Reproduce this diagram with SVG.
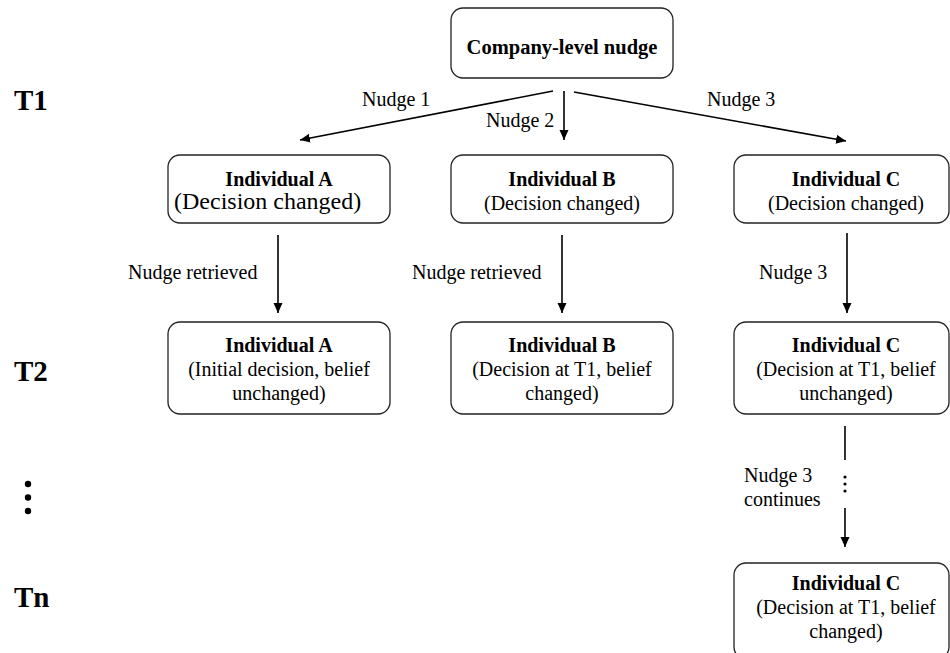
<svg xmlns="http://www.w3.org/2000/svg" width="950" height="653" viewBox="0 0 950 653">
<style>
.box{fill:#fff;stroke:#222;stroke-width:1.3}
text{font-family:"Liberation Serif",Tinos,"Times New Roman","DejaVu Serif",serif;fill:#000}
.b{font-weight:bold;font-size:20px;text-anchor:middle}
.r{font-size:20px;text-anchor:middle}
.l{font-size:20px}
.t{font-weight:bold;font-size:29px}
.ln{stroke:#000;stroke-width:1.6;fill:none}
</style>
<defs>
<marker id="ah" viewBox="0 0 10 10" refX="10" refY="5" markerWidth="10" markerHeight="10" markerUnits="userSpaceOnUse" orient="auto">
<path d="M0,0.5 L10,5 L0,9.5 z" fill="#000"/>
</marker>
</defs>
<rect width="950" height="653" fill="#fff"/>
<g id="time-labels">
<text class="t" x="14" y="110">T1</text>
<text class="t" x="14" y="381">T2</text>
<circle cx="28" cy="484" r="3.2" fill="#000"/>
<circle cx="28" cy="497.5" r="3.2" fill="#000"/>
<circle cx="28" cy="511" r="3.2" fill="#000"/>
<text class="t" x="14" y="607">Tn</text>
</g>
<g id="company">
<rect class="box" x="451" y="8" width="222" height="70" rx="12"/>
<text class="b" x="562" y="54" style="font-size:20.5px">Company-level nudge</text>
</g>
<g id="a1">
<rect class="box" x="168" y="155" width="222" height="68" rx="12"/>
<text class="b" x="279" y="186">Individual A</text>
<text x="174" y="209" style="font-size:24px">(Decision changed)</text>
</g>
<g id="b1">
<rect class="box" x="451" y="155" width="222" height="68" rx="12"/>
<text class="b" x="562" y="186">Individual B</text>
<text class="r" x="562" y="210">(Decision changed)</text>
</g>
<g id="c1">
<rect class="box" x="734" y="155" width="215" height="68" rx="12"/>
<text class="b" x="846" y="186">Individual C</text>
<text class="r" x="846" y="210">(Decision changed)</text>
</g>
<g id="a2">
<rect class="box" x="168" y="322" width="222" height="92" rx="12"/>
<text class="b" x="279" y="352">Individual A</text>
<text class="r" x="279" y="376">(Initial decision, belief</text>
<text class="r" x="279" y="400">unchanged)</text>
</g>
<g id="b2">
<rect class="box" x="451" y="322" width="222" height="92" rx="12"/>
<text class="b" x="562" y="352">Individual B</text>
<text class="r" x="562" y="376">(Decision at T1, belief</text>
<text class="r" x="562" y="400">changed)</text>
</g>
<g id="c2">
<rect class="box" x="734" y="322" width="215" height="92" rx="12"/>
<text class="b" x="846" y="352">Individual C</text>
<text class="r" x="846" y="376">(Decision at T1, belief</text>
<text class="r" x="846" y="400">unchanged)</text>
</g>
<g id="c3">
<rect class="box" x="734" y="563" width="215" height="96" rx="12"/>
<text class="b" x="846" y="590">Individual C</text>
<text class="r" x="846" y="614">(Decision at T1, belief</text>
<text class="r" x="846" y="638">changed)</text>
</g>
<g id="connectors">
<line class="ln" x1="553" y1="91" x2="300" y2="140" marker-end="url(#ah)"/>
<line class="ln" x1="564" y1="91" x2="564" y2="140" marker-end="url(#ah)"/>
<line class="ln" x1="574" y1="92" x2="846" y2="141" marker-end="url(#ah)"/>
<line class="ln" x1="278" y1="235" x2="278" y2="313" marker-end="url(#ah)"/>
<line class="ln" x1="562" y1="235" x2="562" y2="313" marker-end="url(#ah)"/>
<line class="ln" x1="847" y1="233" x2="847" y2="313" marker-end="url(#ah)"/>
<line class="ln" x1="845" y1="426" x2="845" y2="460"/>
<circle cx="845" cy="477" r="1.6" fill="#000"/>
<circle cx="845" cy="484" r="1.6" fill="#000"/>
<circle cx="845" cy="491" r="1.6" fill="#000"/>
<line class="ln" x1="845" y1="508" x2="845" y2="547" marker-end="url(#ah)"/>
<text class="l" x="362" y="106">Nudge 1</text>
<text class="l" x="486" y="127">Nudge 2</text>
<text class="l" x="707" y="106">Nudge 3</text>
<text class="l" x="128" y="279">Nudge retrieved</text>
<text class="l" x="412" y="279">Nudge retrieved</text>
<text class="l" x="759" y="279">Nudge 3</text>
<text class="l" x="744" y="482">Nudge 3</text>
<text class="l" x="744" y="506">continues</text>
</g>
</svg>
